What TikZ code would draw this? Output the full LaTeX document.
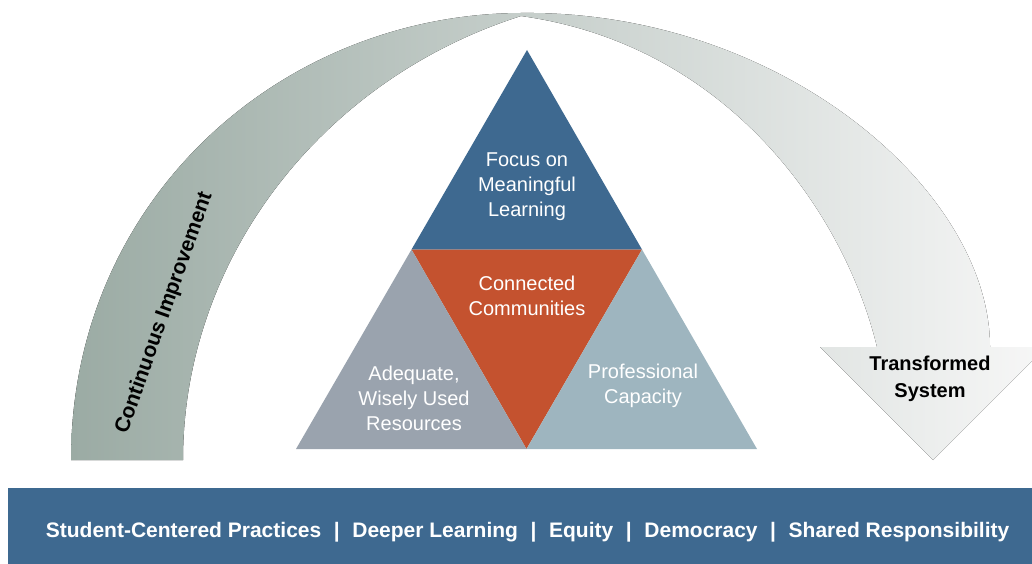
\documentclass[tikz,border=0pt]{standalone}
\usepackage{fontspec}
\setmainfont{Liberation Sans}
\definecolor{bandblue}{HTML}{3E6990}
\definecolor{commred}{HTML}{C4522F}
\definecolor{resgray}{HTML}{9AA3AE}
\definecolor{profblue}{HTML}{9EB5BF}
\definecolor{archleft}{HTML}{9BABA4}
\definecolor{archmid}{HTML}{BCC7C2}
\definecolor{archright}{HTML}{F7F7F7}
\newcommand\valsep{\hspace{0.6em}|\hspace{0.6em}}
\begin{document}
\begin{tikzpicture}[x=1pt,y=-1pt,
	tri/.style={align=center,text=white,font=\fontsize{20}{25}\selectfont},
	bold/.style={align=center,font=\bfseries\fontsize{20}{27}\selectfont}]
	\useasboundingbox (0,0) rectangle (1032,564);
	% arch arrow
	\fill[left color=archleft,middle color=archmid,right color=archright]
	(71,460) .. controls (71,200) and (280,14) .. (521,13)
	.. controls (780,10) and (990,190) .. (990,347) -- (1046,347) -- (933,460) -- (820,347) -- (877,347)
	.. controls (845,215) and (730,45) .. (521,16)
	.. controls (320,80) and (183,260) .. (183,460) -- cycle;
	% triangle
	\coordinate (apex) at (527,50);
	\coordinate (bl) at (296,449);
	\coordinate (br) at (757,449);
	\coordinate (ml) at (411.5,249.5);
	\coordinate (mr) at (642,249.5);
	\coordinate (mb) at (526.5,449);
	\fill[bandblue] (apex) -- (ml) -- (mr) -- cycle;
	\fill[commred] (ml) -- (mr) -- (mb) -- cycle;
	\fill[resgray] (ml) -- (bl) -- (mb) -- cycle;
	\fill[profblue] (mr) -- (mb) -- (br) -- cycle;
	\node(focus) [tri] at (527,187) {Focus on\\ Meaningful\\ Learning};
	\node(comm) [tri] at (527,295.5) {Connected\\ Communities};
	\node(res) [tri] at (414,398.5) {Adequate,\\ Wisely Used\\ Resources};
	\node(prof) [tri] at (643,385.5) {Professional\\ Capacity};
	\node(ci) [bold,font=\bfseries\fontsize{21}{25}\selectfont,rotate=70.5] at (164.5,313) {Continuous Improvement};
	\node(ts) [bold] at (930,379) {Transformed\\ System};
	% values band
	\fill[bandblue] (8,488) rectangle (1032,564);
	\node(vals) [bold,text=white,font=\bfseries\fontsize{21}{25}\selectfont] at (527.6,532) {Student-Centered Practices\valsep Deeper Learning\valsep Equity\valsep Democracy\valsep Shared Responsibility};
\end{tikzpicture}
\end{document}
